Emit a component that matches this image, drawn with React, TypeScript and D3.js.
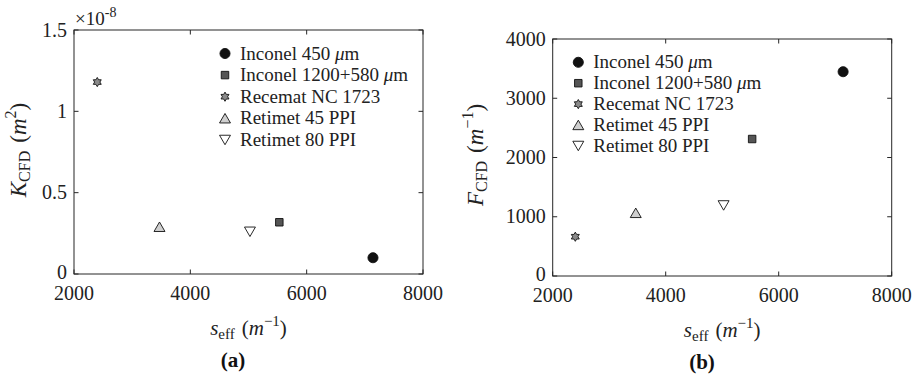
import React from "react";
import * as d3 from "d3";

// Effective specific surface s_eff (1/m) of each sample
const materials = ["Inconel 450 μm", "Inconel 1200+580 μm", "Recemat NC 1723", "Retimet 45 PPI", "Retimet 80 PPI"];
const sEff = [7140, 5530, 2400, 3470, 5025];
// Permeability K_CFD, in units of 1e-8 m^2
const kCfd = [0.10, 0.318, 1.18, 0.29, 0.26];
// Forchheimer coefficient F_CFD (1/m)
const fCfd = [3448, 2312, 663, 1065, 1192];

const xTicks = [2000, 4000, 6000, 8000];
const kTicks = [0, 0.5, 1, 1.5];
const fTicks = [0, 1000, 2000, 3000, 4000];

const markerFill = ["#111111", "#555555", "#8a8a8a", "#cfcfcf", "#ffffff"];

// Six-pointed star used for the Recemat foam
const hexagram: d3.SymbolType = {
  draw(ctx, size) {
    const R = Math.sqrt(size) * 0.62;
    const r = R / Math.sqrt(3);
    for (let i = 0; i < 12; i++) {
      const a = (i * Math.PI) / 6 - Math.PI / 2;
      const rad = i % 2 === 0 ? R : r;
      const x = rad * Math.cos(a);
      const y = rad * Math.sin(a);
      if (i === 0) ctx.moveTo(x, y);
      else ctx.lineTo(x, y);
    }
    ctx.closePath();
  },
};

const symbolTypes: d3.SymbolType[] = [d3.symbolCircle, d3.symbolSquare, hexagram, d3.symbolTriangle, d3.symbolTriangle];
const symbolSizes = [80, 56, 55, 52, 52];
const rotations = [0, 0, 0, 0, 180];

const FONT = "'Liberation Serif', 'DejaVu Serif', serif";
const AX = "#262626";

function Marker({ i, x, y }: { i: number; x: number; y: number }) {
  const path = d3.symbol().type(symbolTypes[i]).size(symbolSizes[i])() || "";
  const dy = i === 3 ? 1.5 : i === 4 ? -1.5 : 0;
  return (
    <path
      d={path}
      transform={`translate(${x},${y + dy}) rotate(${rotations[i]})`}
      fill={markerFill[i]}
      stroke="#111"
      strokeWidth={0.9}
    />
  );
}

type PanelProps = {
  x0: number;
  x1: number;
  y0: number;
  y1: number;
  yDomain: [number, number];
  yTicks: number[];
  values: number[];
  yFmt: (v: number) => string;
  legendX: number;
  legendY: number;
  legendStep: number;
  yLabel: React.ReactNode;
  yLabelX: number;
  yLabelY: number;
  letter: string;
  letterX: number;
};

function Panel(p: PanelProps) {
  const x = d3.scaleLinear().domain([2000, 8000]).range([p.x0, p.x1]);
  const y = d3.scaleLinear().domain(p.yDomain).range([p.y1, p.y0]);
  const tl = 4.5;
  const cx = (p.x0 + p.x1) / 2;
  return (
    <g fontFamily={FONT}>
      <rect x={p.x0} y={p.y0} width={p.x1 - p.x0} height={p.y1 - p.y0} fill="none" stroke={AX} strokeWidth={1} />
      {xTicks.map((t) => (
        <g key={"x" + t}>
          <line x1={x(t)} x2={x(t)} y1={p.y1} y2={p.y1 - tl} stroke={AX} />
          <line x1={x(t)} x2={x(t)} y1={p.y0} y2={p.y0 + tl} stroke={AX} />
          <text x={x(t)} y={p.y1 + 26} textAnchor="middle" fontSize={20} fill="#222">
            {t}
          </text>
        </g>
      ))}
      {p.yTicks.map((t) => (
        <g key={"y" + t}>
          <line x1={p.x0} x2={p.x0 + tl} y1={y(t)} y2={y(t)} stroke={AX} />
          <line x1={p.x1} x2={p.x1 - tl} y1={y(t)} y2={y(t)} stroke={AX} />
          <text x={p.x0 - 7} y={y(t) + (t === 0 ? 5 : 6.5)} textAnchor="end" fontSize={20} fill="#222">
            {p.yFmt(t)}
          </text>
        </g>
      ))}
      {p.values.map((v, i) => (
        <Marker key={"m" + i} i={i} x={x(sEff[i])} y={y(v)} />
      ))}
      {materials.map((m, i) => (
        <g key={"l" + i}>
          <Marker i={i} x={p.legendX} y={p.legendY + i * p.legendStep} />
          <text x={p.legendX + 15} y={p.legendY + i * p.legendStep + 6} fontSize={19} fill="#222">
            {m.replace(" μm", " ")}
            {m.endsWith("μm") ? <tspan fontStyle="italic">μ</tspan> : null}
            {m.endsWith("μm") ? "m" : null}
          </text>
        </g>
      ))}
      <text x={cx} y={p.y1 + 61} textAnchor="middle" fontSize={21} fill="#222">
        <tspan fontStyle="italic">s</tspan>
        <tspan fontSize={15} dy={4}>eff</tspan>
        <tspan dy={-4} dx={7}>(</tspan>
        <tspan fontStyle="italic">m</tspan>
        <tspan fontSize={15} dy={-9}>−1</tspan>
        <tspan dy={9}>)</tspan>
      </text>
      <text transform={`translate(${p.yLabelX},${p.yLabelY}) rotate(-90)`} textAnchor="middle" fontSize={23} fill="#222">
        {p.yLabel}
      </text>
      <text x={p.letterX} y={p.y1 + 93} textAnchor="middle" fontSize={21} fontWeight="bold" fill="#111">
        {p.letter}
      </text>
    </g>
  );
}

export default function App() {
  return (
    <div style={{ position: "absolute", left: 0, top: 0 }}>
      <svg width={915} height={381} style={{ display: "block", background: "#fff" }}>
        <Panel
          x0={74}
          x1={423}
          y0={30}
          y1={274}
          yDomain={[0, 1.5]}
          yTicks={kTicks}
          values={kCfd}
          yFmt={(v) => (v === 0 ? "0" : String(v))}
          legendX={225}
          legendY={53.5}
          legendStep={21.6}
          yLabelX={26}
          yLabelY={150}
          letter="(a)"
          letterX={233}
          yLabel={
            <>
              <tspan fontStyle="italic">K</tspan>
              <tspan fontSize={16} dy={4}>CFD</tspan>
              <tspan dy={-4} dx={8}>(</tspan>
              <tspan fontStyle="italic">m</tspan>
              <tspan fontSize={16} dy={-10}>2</tspan>
              <tspan dy={10}>)</tspan>
            </>
          }
        />
        <text x={75} y={25} fontFamily={FONT} fontSize={19} fill="#222">
          ×10
          <tspan fontSize={14} dy={-8}>-8</tspan>
        </text>
        <Panel
          x0={552.7}
          x1={891.7}
          y0={39}
          y1={276}
          yDomain={[0, 4000]}
          yTicks={fTicks}
          values={fCfd}
          yFmt={(v) => String(v)}
          legendX={578.3}
          legendY={62.3}
          legendStep={20.9}
          yLabelX={483}
          yLabelY={155}
          letter="(b)"
          letterX={702}
          yLabel={
            <>
              <tspan fontStyle="italic">F</tspan>
              <tspan fontSize={16} dy={4}>CFD</tspan>
              <tspan dy={-4} dx={8}>(</tspan>
              <tspan fontStyle="italic">m</tspan>
              <tspan fontSize={16} dy={-10}>−1</tspan>
              <tspan dy={10}>)</tspan>
            </>
          }
        />
      </svg>
    </div>
  );
}
